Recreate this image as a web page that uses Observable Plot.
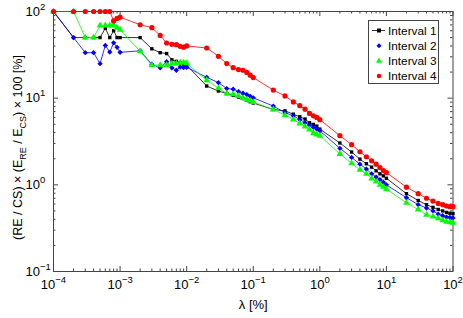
<!DOCTYPE html>
<html><head><meta charset="utf-8">
<script src="https://cdn.jsdelivr.net/npm/d3@7"></script>
<script src="https://cdn.jsdelivr.net/npm/@observablehq/plot@0.6"></script>
<style>
body{margin:0;background:#fff;}
#chart{width:463px;height:318px;}
svg{font-family:"Liberation Sans",Arial,Helvetica,sans-serif;}
</style></head><body><div id="chart"></div>
<script>
// lambda [%] sample points shared by all series
const lambda = [0.0001,0.0002,0.0003,0.0004,0.0005,0.0006,0.0007,0.0008,0.0009,0.001,
  0.002,0.003,0.004,0.005,0.006,0.007,0.008,0.009,0.01,
  0.02,0.03,0.04,0.05,0.06,0.07,0.08,0.09,0.1,
  0.2,0.3,0.4,0.5,0.6,0.7,0.8,0.9,1,
  2,3,4,5,6,7,8,9,10,
  20,30,40,50,60,70,80,90,100];

const interval1 = [100,50,50,50,50,64,50,60,50,50,
  50,37.1,33.5,32.7,27.7,26.6,25.6,24.6,24.0,
  13.8,12.1,11.3,10.8,10.3,9.9,9.5,9.1,8.8,
  7.4,7.14,6.54,6.1,5.74,5.2,4.98,4.76,4.4,
  3.04,2.39,1.98,1.75,1.6,1.45,1.34,1.27,1.19,
  0.79,0.66,0.59,0.55,0.52,0.50,0.48,0.47,0.465];

const interval2 = [100,50,33.5,33.5,25,40.6,34,43.5,38.6,33.8,
  35.2,24.6,22.4,26.3,22.4,21.0,22.9,22.6,22.7,
  17.4,15.1,12.9,12.7,11.9,11.4,11.0,10.5,10.1,
  8.1,6.8,6.25,5.67,5.2,4.89,4.6,4.4,4.2,
  2.64,2.07,1.73,1.52,1.34,1.23,1.15,1.07,1.0,
  0.71,0.59,0.54,0.50,0.46,0.44,0.425,0.42,0.415];

const interval3 = [100,100,50,50,69,69,69,69,65,61.6,
  34.7,24.0,24.0,24.0,25.0,25.0,25.7,25.7,25.2,
  16.1,13.0,11.3,11.1,10.6,10.0,9.6,9.3,9.0,
  7.4,6.36,5.67,5.1,4.7,4.35,3.97,3.8,3.69,
  2.27,1.77,1.49,1.34,1.18,1.09,1.0,0.95,0.89,
  0.62,0.52,0.45,0.43,0.41,0.39,0.375,0.37,0.365];

const interval4 = [100,100,100,100,100,100,100,77.9,83.1,86.0,
  70.3,65.0,53.0,43.3,41.8,41.4,39.6,38.8,40.1,
  37.9,30.4,25.1,22.5,21.4,21.0,19.8,18.4,17.3,
  12.4,10.6,9.06,8.20,7.46,6.66,6.25,5.99,5.65,
  3.69,2.91,2.41,2.11,1.89,1.73,1.58,1.46,1.38,
  0.94,0.79,0.70,0.65,0.61,0.59,0.57,0.56,0.56];

const seriesNames = ["Interval 1","Interval 2","Interval 3","Interval 4"];
const seriesValues = [interval1, interval2, interval3, interval4];
const seriesColors = ["#000000","#0000ff","#00ff00","#ff0000"];
const seriesSymbols = ["square","diamond2","triangle","circle"];
const seriesR = [1.9,2.4,2.5,2.6];

const xMajorTicks = [1e-4,1e-3,1e-2,1e-1,1,10,100];
const yMajorTicks = [0.1,1,10,100];
const xTickLabels = ["10^-4","10^-3","10^-2","10^-1","10^0","10^1","10^2"];
const yTickLabels = ["10^-1","10^0","10^1","10^2"];
const minorMult = [2,3,4,5,6,7,8,9];
const xLabel = "λ [%]";
const yLabel = "(RE / CS) × (E_{RE} / E_{CS}) × 100 [%]";

const W = 463, H = 318, mt = 11, mb = 47, ml = 53, mr = 10.5;
const plotH = H - mt - mb, plotW = W - ml - mr;

const minorOf = (majors) => majors.slice(0, -1).flatMap(d => minorMult.map(m => +(d * m).toPrecision(3)));
const xMinor = minorOf(xMajorTicks);
const yMinor = minorOf(yMajorTicks);

const rows = [];
seriesValues.forEach((vals, si) => vals.forEach((v, i) => rows.push({lambda: lambda[i], value: v, series: seriesNames[si], si})));

const axisColor = "#444";
const MJ = 5, MN = 2.5;
const marks = [
  Plot.frame({stroke: axisColor, strokeWidth: 1}),
  Plot.ruleX(xMajorTicks, {x: d => d, insetTop: plotH - MJ, stroke: axisColor}),
  Plot.ruleX(xMajorTicks, {x: d => d, insetBottom: plotH - MJ, stroke: axisColor}),
  Plot.ruleX(xMinor, {x: d => d, insetTop: plotH - MN, stroke: axisColor}),
  Plot.ruleX(xMinor, {x: d => d, insetBottom: plotH - MN, stroke: axisColor}),
  Plot.ruleY(yMajorTicks, {y: d => d, insetRight: plotW - MJ, stroke: axisColor}),
  Plot.ruleY(yMajorTicks, {y: d => d, insetLeft: plotW - MJ, stroke: axisColor}),
  Plot.ruleY(yMinor, {y: d => d, insetRight: plotW - MN, stroke: axisColor}),
  Plot.ruleY(yMinor, {y: d => d, insetLeft: plotW - MN, stroke: axisColor})
];
seriesNames.forEach((name, si) => {
  const data = rows.filter(r => r.si === si);
  marks.push(Plot.line(data, {x: "lambda", y: "value", stroke: seriesColors[si], strokeWidth: 0.8}));
  marks.push(Plot.dot(data, {x: "lambda", y: "value", symbol: () => seriesSymbols[si], fill: seriesColors[si], stroke: "none", r: seriesR[si]}));
});
marks.push(
  Plot.text(xMajorTicks, {x: d => d, frameAnchor: "bottom", dy: 17, text: (d, i) => xTickLabels[i], fontSize: 13, fill: "#000"}),
  Plot.text(yMajorTicks, {y: d => d, frameAnchor: "left", dx: -28, textAnchor: "start", text: (d, i) => yTickLabels[i], fontSize: 13, fill: "#000"}),
  Plot.text([xLabel], {frameAnchor: "bottom", dy: 37, text: d => d, fontSize: 13, fill: "#000"}),
  Plot.text([yLabel], {frameAnchor: "left", rotate: -90, text: d => d, fontSize: 12.5, fill: "#000"})
);

const svg = Plot.plot({
  width: W, height: H,
  marginTop: mt, marginBottom: mb, marginLeft: ml, marginRight: mr,
  x: {type: "log", domain: [1e-4, 100], axis: null},
  y: {type: "log", domain: [0.1, 100], axis: null},
  style: {fontFamily: "'Liberation Sans', Arial, sans-serif", background: "#fff"},
  marks
});

// superscripts / subscripts as real text tspans
const NS = "http://www.w3.org/2000/svg";
svg.querySelectorAll("text").forEach(t => {
  const s = t.textContent;
  const m = /^10\^(.+)$/.exec(s);
  if (m) {
    t.textContent = "10";
    const ts = document.createElementNS(NS, "tspan");
    ts.setAttribute("dy", "-6");
    ts.setAttribute("font-size", "9.5");
    ts.textContent = m[1].replace("-", "\u2212");
    t.appendChild(ts);
  } else if (s.includes("_{")) {
    t.textContent = "";
    t.setAttribute("transform", "translate(21,147) rotate(-90)");
    t.removeAttribute("x"); t.removeAttribute("y");
    t.setAttribute("text-anchor", "middle");
    const parts = s.split(/(_\{[^}]*\})/).filter(p => p.length);
    let shifted = false;
    parts.forEach(p => {
      const ts = document.createElementNS(NS, "tspan");
      if (p.startsWith("_{")) {
        ts.textContent = p.slice(2, -1);
        ts.setAttribute("font-size", "9");
        ts.setAttribute("dy", "4");
        shifted = true;
      } else {
        ts.textContent = p;
        if (shifted) { ts.setAttribute("dy", "-4"); shifted = false; }
      }
      t.appendChild(ts);
    });
  }
});

// legend
const lg = d3.select(svg).append("g").attr("font-family", "'Liberation Sans', Arial, sans-serif").attr("font-size", 11.8).attr("text-anchor", "start");
lg.append("rect").attr("x", 368.5).attr("y", 20.5).attr("width", 70).attr("height", 63).attr("fill", "#fff").attr("stroke", axisColor);
const legSyms = {square: d3.symbolSquare, diamond2: d3.symbolDiamond2, triangle: d3.symbolTriangle, circle: d3.symbolCircle};
seriesNames.forEach((name, si) => {
  const cy = 30.5 + si * 15.2;
  if (si === 0) lg.append("line").attr("x1", 372).attr("x2", 385).attr("y1", cy).attr("y2", cy).attr("stroke", seriesColors[si]).attr("stroke-width", 0.8);
  lg.append("path").attr("d", d3.symbol(legSyms[seriesSymbols[si]], 16)()).attr("transform", `translate(379,${cy})`).attr("fill", seriesColors[si]);
  lg.append("text").attr("x", 388).attr("y", cy).attr("dy", "0.35em").attr("text-anchor", "start").text(name);
});

document.getElementById("chart").appendChild(svg);
</script></body></html>
